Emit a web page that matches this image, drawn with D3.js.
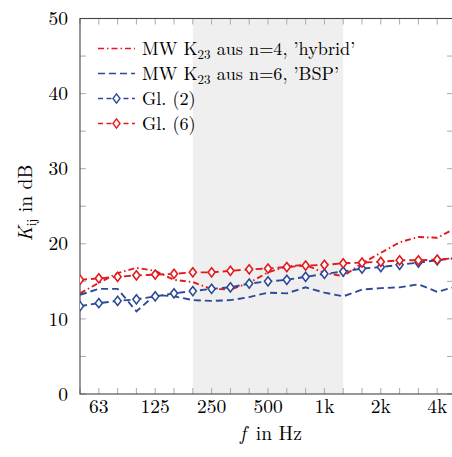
<!DOCTYPE html>
<html>
<head>
<meta charset="utf-8">
<script src="https://cdn.jsdelivr.net/npm/d3@7"></script>
<style>
  body { margin: 0; background: #fff; }
  svg text { font-family: "Latin Modern Roman", "Liberation Serif", "DejaVu Serif"; }
</style>
</head>
<body>
<div id="chart"></div>
<script>
// third-octave bands, 50 Hz .. 5 kHz
const bands = [50, 63, 80, 100, 125, 160, 200, 250, 315, 400, 500, 630, 800, 1000, 1250, 1600, 2000, 2500, 3150, 4000, 5000];
const hybrid = [13.4, 14.8, 16.1, 16.8, 16.4, 15.2, 14.9, 14.0, 13.9, 14.8, 16.2, 17.0, 17.2, 16.1, 15.7, 17.4, 18.8, 20.2, 20.9, 20.8, 22.1];
const bsp = [13.2, 14.0, 14.0, 11.0, 13.2, 13.0, 12.5, 12.4, 12.5, 12.9, 13.5, 13.4, 14.2, 13.5, 13.0, 13.9, 14.1, 14.2, 14.6, 13.6, 14.3];
const gl2 = [11.7, 12.1, 12.4, 12.6, 13.0, 13.4, 13.7, 14.0, 14.2, 14.7, 15.0, 15.2, 15.6, 16.0, 16.3, 16.7, 16.9, 17.2, 17.5, 17.8, 18.1];
const gl6 = [15.2, 15.4, 15.6, 15.8, 15.9, 16.0, 16.2, 16.2, 16.4, 16.6, 16.7, 16.9, 17.1, 17.2, 17.4, 17.5, 17.6, 17.8, 17.8, 17.9, 18.1];
const xTickLabels = [[63, "63"], [125, "125"], [250, "250"], [500, "500"], [1000, "1k"], [2000, "2k"], [4000, "4k"]];
const yTicks = [0, 10, 20, 30, 40, 50];
const shadedRange = [200, 1250];

const red = "#e3191c";
const blue = "#2c4a98";
const fontSize = 19.5;
const legendFontSize = 18.2;

const width = 452;
const height = 457;
const margin = { top: 18.5, right: -1, bottom: 63, left: 80 };

// exact band centre frequency from the nominal value
const exact = (f) => 1000 * Math.pow(10, Math.round(10 * Math.log10(f / 1000)) / 10);

const x = d3.scaleLog()
  .domain([exact(50), 4830])
  .range([margin.left, width - margin.right]);
const y = d3.scaleLinear()
  .domain([0, 50])
  .range([height - margin.bottom, margin.top]);

const svg = d3.select("#chart")
  .append("svg")
  .attr("width", width)
  .attr("height", height)
  .style("display", "block");

const x0 = x.range()[0], x1 = x.range()[1];
const y0 = y.range()[0], y1 = y.range()[1];

svg.append("rect")
  .attr("x", x(exact(shadedRange[0])))
  .attr("y", y1)
  .attr("width", x(exact(shadedRange[1])) - x(exact(shadedRange[0])))
  .attr("height", y0 - y1)
  .attr("fill", "#efefef");

// ticks, inside the frame
const tickG = svg.append("g").attr("stroke", "#aaa").attr("stroke-width", 1);
bands.forEach((f) => {
  const px = x(exact(f));
  tickG.append("line").attr("x1", px).attr("x2", px).attr("y1", y0).attr("y2", y0 - 6);
  tickG.append("line").attr("x1", px).attr("x2", px).attr("y1", y1).attr("y2", y1 + 6);
});
d3.range(0, 51, 5).forEach((v) => {
  tickG.append("line").attr("x1", x0).attr("x2", x0 + 6).attr("y1", y(v)).attr("y2", y(v));
  tickG.append("line").attr("x1", x1).attr("x2", x1 - 6).attr("y1", y(v)).attr("y2", y(v));
});

svg.append("rect")
  .attr("x", x0)
  .attr("y", y1)
  .attr("width", x1 - x0)
  .attr("height", y0 - y1)
  .attr("fill", "none")
  .attr("stroke", "#444")
  .attr("stroke-width", 1.1);

svg.append("g")
  .selectAll("text")
  .data(xTickLabels)
  .join("text")
  .attr("x", (d) => x(exact(d[0])))
  .attr("y", 413)
  .attr("text-anchor", "middle")
  .attr("font-size", fontSize)
  .text((d) => d[1]);

svg.append("g")
  .selectAll("text")
  .data(yTicks)
  .join("text")
  .attr("x", 68)
  .attr("y", (d) => y(d))
  .attr("dy", "0.34em")
  .attr("text-anchor", "end")
  .attr("font-size", fontSize)
  .text((d) => d);

const xLabel = svg.append("text")
  .attr("x", 271)
  .attr("y", 440)
  .attr("text-anchor", "middle")
  .attr("font-size", fontSize);
xLabel.append("tspan").attr("font-style", "italic").text("f");
xLabel.append("tspan").text("\u2002in Hz");

const yLabel = svg.append("text")
  .attr("transform", "translate(32,203) rotate(-90)")
  .attr("text-anchor", "middle")
  .attr("font-size", fontSize);
yLabel.append("tspan").attr("font-style", "italic").text("K");
yLabel.append("tspan").attr("font-size", 13).attr("dy", 4).text("ij");
yLabel.append("tspan").attr("dy", -4).text(" in dB");

svg.append("clipPath").attr("id", "plot-clip")
  .append("rect")
  .attr("x", x0).attr("y", y1).attr("width", x1 - x0).attr("height", y0 - y1);

const plot = svg.append("g").attr("clip-path", "url(#plot-clip)");

const series = [
  { name: "hybrid", values: hybrid, color: red, dash: "6,3,1.5,3", marker: false },
  { name: "bsp", values: bsp, color: blue, dash: "7,4", marker: false },
  { name: "gl2", values: gl2, color: blue, dash: "7,4", marker: true },
  { name: "gl6", values: gl6, color: red, dash: "7,4", marker: true },
];

const line = d3.line()
  .x((d, i) => x(exact(bands[i])))
  .y((d) => y(d));

const diamond = "M0,-4.6L3.5,0L0,4.6L-3.5,0Z";

series.forEach((s) => {
  plot.append("path")
    .attr("d", line(s.values))
    .attr("fill", "none")
    .attr("stroke", s.color)
    .attr("stroke-width", 1.9)
    .attr("stroke-dasharray", s.dash);
  if (s.marker) {
    plot.append("g")
      .selectAll("path")
      .data(s.values)
      .join("path")
      .attr("transform", (d, i) => `translate(${x(exact(bands[i]))},${y(d)})`)
      .attr("d", diamond)
      .attr("fill", "#fff")
      .attr("stroke", s.color)
      .attr("stroke-width", 1.6);
  }
});

// legend
const legendItems = [
  { s: series[0], label: ["MW K", "23", " aus n=4, \u2019hybrid\u2019"] },
  { s: series[1], label: ["MW K", "23", " aus n=6, \u2019BSP\u2019"] },
  { s: series[2], label: ["Gl. (2)"] },
  { s: series[3], label: ["Gl. (6)"] },
];

const legend = svg.append("g");
legendItems.forEach((item, i) => {
  const ly = 48.5 + i * 25;
  legend.append("line")
    .attr("x1", 98).attr("x2", 135)
    .attr("y1", ly).attr("y2", ly)
    .attr("stroke", item.s.color)
    .attr("stroke-width", 1.6)
    .attr("stroke-dasharray", item.s.marker ? "5,3.5" : item.s.dash);
  if (item.s.marker) {
    legend.append("path")
      .attr("transform", `translate(116.5,${ly})`)
      .attr("d", diamond)
      .attr("fill", "#fff")
      .attr("stroke", item.s.color)
      .attr("stroke-width", 1.4);
  }
  const t = legend.append("text")
    .attr("x", 142)
    .attr("y", ly + 6.5)
    .attr("font-size", legendFontSize);
  t.append("tspan").text(item.label[0]);
  if (item.label.length > 1) {
    t.append("tspan").attr("font-size", 13).attr("dy", 4).text(item.label[1]);
    t.append("tspan").attr("dy", -4).text(item.label[2]);
  }
});
</script>
</body>
</html>
